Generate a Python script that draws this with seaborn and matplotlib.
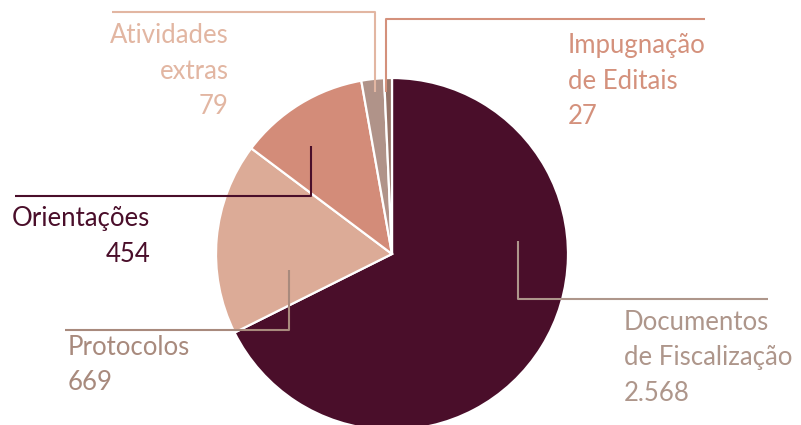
import matplotlib
matplotlib.use('Agg')
import matplotlib.pyplot as plt
import seaborn as sns

# data
categorias = [['Documentos', 'de Fiscalização'], ['Protocolos'], ['Orientações'],
              ['Atividades', 'extras'], ['Impugnação', 'de Editais']]
valores = [2568, 669, 454, 79, 27]
rotulos_valor = ['2.568', '669', '454', '79', '27']

cores_fatia = ['#4a0e2a', '#dcab97', '#d38c79', '#b09389', '#957468']
cores_texto = ['#ae968b', '#a88a7d', '#4a0e2a', '#e2b6a2', '#d4917c']

sns.set_theme(style='white')
plt.rcParams['font.family'] = ['Lato', 'DejaVu Sans']

fig = plt.figure(figsize=(8.01, 4.25), dpi=100)

# pie axes, pixel-like coords with y up
cx, cy, r = 392, 254, 176
ax2 = fig.add_axes([0, 0, 1, 1])
ax2.pie(valores, colors=cores_fatia, startangle=90, counterclock=False,
        center=(cx, 425 - cy), radius=r, frame=True,
        wedgeprops=dict(linewidth=1.6, edgecolor='white'))
ax2.set_xlim(0, 801)
ax2.set_ylim(0, 425)
ax2.set_aspect('auto')
ax2.axis('off')

# overlay axes for labels, y down
ax = fig.add_axes([0, 0, 1, 1])
ax.set_xlim(0, 801)
ax.set_ylim(425, 0)
ax.axis('off')

# leader lines
guias = [
    [(518, 241), (518, 299), (768, 299)],
    [(289, 270), (289, 330), (65, 330)],
    [(311, 146), (311, 196), (15, 196)],
    [(375, 92), (375, 12), (112, 12)],
    [(386, 92), (386, 19), (705, 19)],
]
# first baseline (x, y, ha)
pos_texto = [
    (624, 330, 'left'),
    (68, 355, 'left'),
    (150, 226, 'right'),
    (229, 43, 'right'),
    (568, 53, 'left'),
]
passo = 35.5

for i in range(len(valores)):
    xs = [p[0] for p in guias[i]]
    ys = [p[1] for p in guias[i]]
    ax.plot(xs, ys, color=cores_texto[i], lw=1.5, solid_capstyle='butt')
    x, y, ha = pos_texto[i]
    linhas = categorias[i] + [rotulos_valor[i]]
    for k, linha in enumerate(linhas):
        ax.text(x, y + k * passo, linha, ha=ha, va='baseline',
                color=cores_texto[i], fontsize=18.5)

fig.savefig('out.png', dpi=100)
